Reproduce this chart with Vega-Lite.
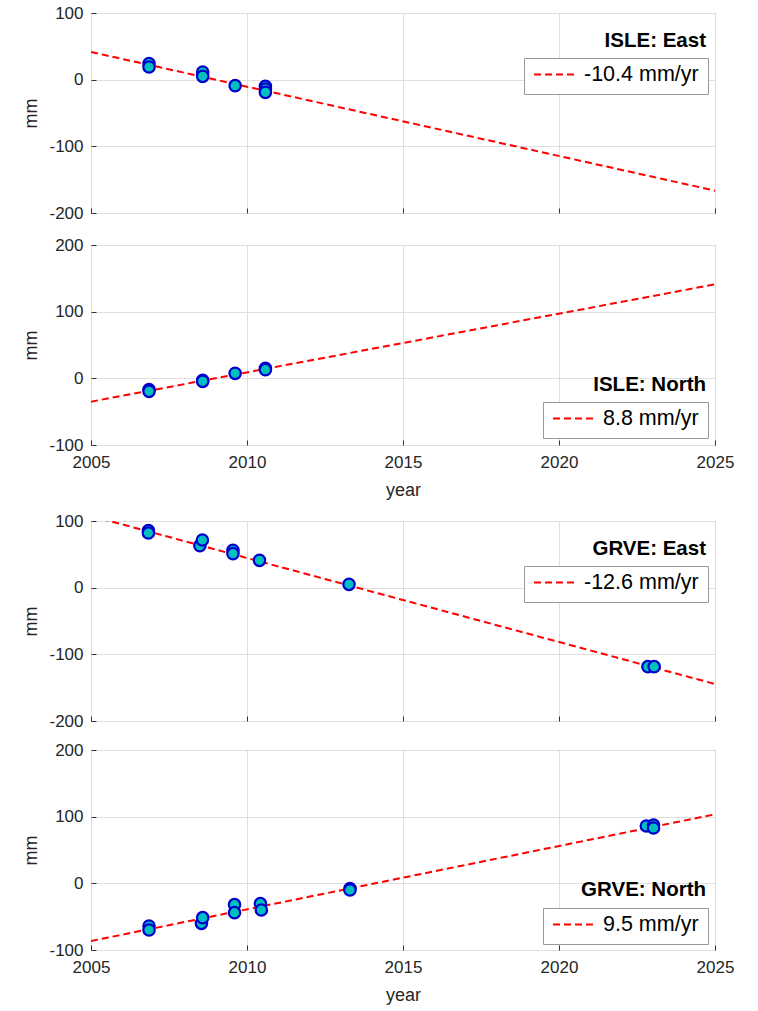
{
  "$schema": "https://vega.github.io/schema/vega-lite/v6.json",
  "padding": {"left": 22, "top": 3, "right": 5, "bottom": 5},
  "background": "white",
  "datasets": {
    "points": [
      {"panel": "ISLE East", "year": 2006.86, "mm": 24},
      {"panel": "ISLE East", "year": 2006.86, "mm": 19},
      {"panel": "ISLE East", "year": 2008.58, "mm": 11.5},
      {"panel": "ISLE East", "year": 2008.58, "mm": 5},
      {"panel": "ISLE East", "year": 2009.62, "mm": -9},
      {"panel": "ISLE East", "year": 2010.59, "mm": -10},
      {"panel": "ISLE East", "year": 2010.59, "mm": -14},
      {"panel": "ISLE East", "year": 2010.59, "mm": -19},
      {"panel": "ISLE North", "year": 2006.86, "mm": -17},
      {"panel": "ISLE North", "year": 2006.86, "mm": -19.5},
      {"panel": "ISLE North", "year": 2008.58, "mm": -3},
      {"panel": "ISLE North", "year": 2008.58, "mm": -4.5},
      {"panel": "ISLE North", "year": 2009.62, "mm": 7.5},
      {"panel": "ISLE North", "year": 2010.59, "mm": 15},
      {"panel": "ISLE North", "year": 2010.59, "mm": 13},
      {"panel": "GRVE East", "year": 2006.84, "mm": 85.5},
      {"panel": "GRVE East", "year": 2006.84, "mm": 82},
      {"panel": "GRVE East", "year": 2008.49, "mm": 63},
      {"panel": "GRVE East", "year": 2008.57, "mm": 71.5},
      {"panel": "GRVE East", "year": 2009.55, "mm": 56},
      {"panel": "GRVE East", "year": 2009.55, "mm": 51},
      {"panel": "GRVE East", "year": 2010.4, "mm": 41},
      {"panel": "GRVE East", "year": 2013.27, "mm": 5},
      {"panel": "GRVE East", "year": 2022.85, "mm": -118.5},
      {"panel": "GRVE East", "year": 2023.05, "mm": -118.5},
      {"panel": "GRVE North", "year": 2006.86, "mm": -64},
      {"panel": "GRVE North", "year": 2006.86, "mm": -70},
      {"panel": "GRVE North", "year": 2008.54, "mm": -60},
      {"panel": "GRVE North", "year": 2008.58, "mm": -51.5},
      {"panel": "GRVE North", "year": 2009.6, "mm": -32},
      {"panel": "GRVE North", "year": 2009.6, "mm": -44},
      {"panel": "GRVE North", "year": 2010.43, "mm": -30.5},
      {"panel": "GRVE North", "year": 2010.46, "mm": -40},
      {"panel": "GRVE North", "year": 2013.3, "mm": -8},
      {"panel": "GRVE North", "year": 2013.3, "mm": -10},
      {"panel": "GRVE North", "year": 2022.8, "mm": 86},
      {"panel": "GRVE North", "year": 2023.03, "mm": 87.5},
      {"panel": "GRVE North", "year": 2023.03, "mm": 83}
    ],
    "lines": [
      {"panel": "ISLE East", "year": 2005, "mm": 41.5, "label": "-10.4 mm/yr"},
      {"panel": "ISLE East", "year": 2025, "mm": -166.5, "label": "-10.4 mm/yr"},
      {"panel": "ISLE North", "year": 2005, "mm": -35, "label": "8.8 mm/yr"},
      {"panel": "ISLE North", "year": 2025, "mm": 141, "label": "8.8 mm/yr"},
      {"panel": "GRVE East", "year": 2005, "mm": 107.5, "label": "-12.6 mm/yr"},
      {"panel": "GRVE East", "year": 2025, "mm": -144.5, "label": "-12.6 mm/yr"},
      {"panel": "GRVE North", "year": 2005, "mm": -86.5, "label": "9.5 mm/yr"},
      {"panel": "GRVE North", "year": 2025, "mm": 103.5, "label": "9.5 mm/yr"}
    ],
    "labels": [
      {"panel": "ISLE East", "text": "ISLE: East"},
      {"panel": "ISLE North", "text": "ISLE: North"},
      {"panel": "GRVE East", "text": "GRVE: East"},
      {"panel": "GRVE North", "text": "GRVE: North"}
    ]
  },
  "spacing": 11,
  "resolve": {"scale": {"color": "independent"}, "legend": {"color": "independent"}},
  "vconcat": [
    {
      "spacing": 13,
      "resolve": {"scale": {"color": "independent"}, "legend": {"color": "independent"}},
      "vconcat": [
        {
          "width": 624, "height": 200,
          "layer": [
            {
              "data": {"name": "lines"},
              "transform": [{"filter": "datum.panel === 'ISLE East'"}],
              "mark": {"type": "line", "strokeDash": [7, 4], "strokeWidth": 2, "clip": true},
              "encoding": {
                "x": {"field": "year", "type": "quantitative", "scale": {"domain": [2005, 2025], "nice": false, "zero": false}, "axis": {"values": [2005, 2010, 2015, 2020, 2025], "labels": false, "title": null}},
                "y": {"field": "mm", "type": "quantitative", "scale": {"domain": [-200, 100], "nice": false}, "axis": {"values": [-200, -100, 0, 100], "title": "mm", "labelExpr": "'' + datum.value"}},
                "color": {"field": "label", "type": "nominal", "scale": {"range": ["#ff0000"]}, "legend": {"orient": "none", "legendX": 433, "legendY": 45}}
              }
            },
            {
              "data": {"name": "points"},
              "transform": [{"filter": "datum.panel === 'ISLE East'"}],
              "mark": {"type": "point", "shape": "circle", "filled": true, "fill": "#00bfbf", "stroke": "#0000cc", "strokeWidth": 2.2, "size": 130, "opacity": 1},
              "encoding": {"x": {"field": "year", "type": "quantitative"}, "y": {"field": "mm", "type": "quantitative"}}
            },
            {
              "data": {"name": "labels"},
              "transform": [{"filter": "datum.panel === 'ISLE East'"}],
              "mark": {"type": "text", "align": "right", "baseline": "alphabetic", "dx": -9, "dy": 34, "fontSize": 20.5, "fontWeight": "bold", "font": "Liberation Sans", "color": "#000000"},
              "encoding": {"x": {"datum": 2025, "type": "quantitative"}, "y": {"datum": 100, "type": "quantitative"}, "text": {"field": "text"}}
            }
          ]
        },
        {
          "width": 624, "height": 200,
          "layer": [
            {
              "data": {"name": "lines"},
              "transform": [{"filter": "datum.panel === 'ISLE North'"}],
              "mark": {"type": "line", "strokeDash": [7, 4], "strokeWidth": 2, "clip": true},
              "encoding": {
                "x": {"field": "year", "type": "quantitative", "scale": {"domain": [2005, 2025], "nice": false, "zero": false}, "axis": {"values": [2005, 2010, 2015, 2020, 2025], "format": "d", "title": "year"}},
                "y": {"field": "mm", "type": "quantitative", "scale": {"domain": [-100, 200], "nice": false}, "axis": {"values": [-100, 0, 100, 200], "title": "mm", "labelExpr": "'' + datum.value"}},
                "color": {"field": "label", "type": "nominal", "scale": {"range": ["#ff0000"]}, "legend": {"orient": "none", "legendX": 452, "legendY": 157}}
              }
            },
            {
              "data": {"name": "points"},
              "transform": [{"filter": "datum.panel === 'ISLE North'"}],
              "mark": {"type": "point", "shape": "circle", "filled": true, "fill": "#00bfbf", "stroke": "#0000cc", "strokeWidth": 2.2, "size": 130, "opacity": 1},
              "encoding": {"x": {"field": "year", "type": "quantitative"}, "y": {"field": "mm", "type": "quantitative"}}
            },
            {
              "data": {"name": "labels"},
              "transform": [{"filter": "datum.panel === 'ISLE North'"}],
              "mark": {"type": "text", "align": "right", "baseline": "alphabetic", "dx": -9, "dy": -54, "fontSize": 20.5, "fontWeight": "bold", "font": "Liberation Sans", "color": "#000000"},
              "encoding": {"x": {"datum": 2025, "type": "quantitative"}, "y": {"datum": -100, "type": "quantitative"}, "text": {"field": "text"}}
            }
          ]
        }
      ]
    },
    {
      "spacing": 10,
      "resolve": {"scale": {"color": "independent"}, "legend": {"color": "independent"}},
      "vconcat": [
        {
          "width": 624, "height": 200,
          "layer": [
            {
              "data": {"name": "lines"},
              "transform": [{"filter": "datum.panel === 'GRVE East'"}],
              "mark": {"type": "line", "strokeDash": [7, 4], "strokeWidth": 2, "clip": true},
              "encoding": {
                "x": {"field": "year", "type": "quantitative", "scale": {"domain": [2005, 2025], "nice": false, "zero": false}, "axis": {"values": [2005, 2010, 2015, 2020, 2025], "labels": false, "title": null}},
                "y": {"field": "mm", "type": "quantitative", "scale": {"domain": [-200, 100], "nice": false}, "axis": {"values": [-200, -100, 0, 100], "title": "mm", "labelExpr": "'' + datum.value"}},
                "color": {"field": "label", "type": "nominal", "scale": {"range": ["#ff0000"]}, "legend": {"orient": "none", "legendX": 433, "legendY": 45}}
              }
            },
            {
              "data": {"name": "points"},
              "transform": [{"filter": "datum.panel === 'GRVE East'"}],
              "mark": {"type": "point", "shape": "circle", "filled": true, "fill": "#00bfbf", "stroke": "#0000cc", "strokeWidth": 2.2, "size": 130, "opacity": 1},
              "encoding": {"x": {"field": "year", "type": "quantitative"}, "y": {"field": "mm", "type": "quantitative"}}
            },
            {
              "data": {"name": "labels"},
              "transform": [{"filter": "datum.panel === 'GRVE East'"}],
              "mark": {"type": "text", "align": "right", "baseline": "alphabetic", "dx": -9, "dy": 34, "fontSize": 20.5, "fontWeight": "bold", "font": "Liberation Sans", "color": "#000000"},
              "encoding": {"x": {"datum": 2025, "type": "quantitative"}, "y": {"datum": 100, "type": "quantitative"}, "text": {"field": "text"}}
            }
          ]
        },
        {
          "width": 624, "height": 200,
          "layer": [
            {
              "data": {"name": "lines"},
              "transform": [{"filter": "datum.panel === 'GRVE North'"}],
              "mark": {"type": "line", "strokeDash": [7, 4], "strokeWidth": 2, "clip": true},
              "encoding": {
                "x": {"field": "year", "type": "quantitative", "scale": {"domain": [2005, 2025], "nice": false, "zero": false}, "axis": {"values": [2005, 2010, 2015, 2020, 2025], "format": "d", "title": "year"}},
                "y": {"field": "mm", "type": "quantitative", "scale": {"domain": [-100, 200], "nice": false}, "axis": {"values": [-100, 0, 100, 200], "title": "mm", "labelExpr": "'' + datum.value"}},
                "color": {"field": "label", "type": "nominal", "scale": {"range": ["#ff0000"]}, "legend": {"orient": "none", "legendX": 452, "legendY": 158}}
              }
            },
            {
              "data": {"name": "points"},
              "transform": [{"filter": "datum.panel === 'GRVE North'"}],
              "mark": {"type": "point", "shape": "circle", "filled": true, "fill": "#00bfbf", "stroke": "#0000cc", "strokeWidth": 2.2, "size": 130, "opacity": 1},
              "encoding": {"x": {"field": "year", "type": "quantitative"}, "y": {"field": "mm", "type": "quantitative"}}
            },
            {
              "data": {"name": "labels"},
              "transform": [{"filter": "datum.panel === 'GRVE North'"}],
              "mark": {"type": "text", "align": "right", "baseline": "alphabetic", "dx": -9, "dy": -54, "fontSize": 20.5, "fontWeight": "bold", "font": "Liberation Sans", "color": "#000000"},
              "encoding": {"x": {"datum": 2025, "type": "quantitative"}, "y": {"datum": -100, "type": "quantitative"}, "text": {"field": "text"}}
            }
          ]
        }
      ]
    }
  ],
  "config": {
    "font": "Liberation Sans",
    "view": {"stroke": "#333333", "strokeWidth": 1},
    "axis": {
      "domain": false,
      "grid": true,
      "gridColor": "#dfdfdf",
      "gridWidth": 1,
      "ticks": true,
      "tickSize": -5,
      "tickColor": "#333333",
      "labelFont": "Liberation Sans",
      "labelFontSize": 17,
      "labelColor": "#262626",
      "labelPadding": 13,
      "titleFont": "Liberation Sans",
      "titleFontSize": 18,
      "titleFontWeight": "normal",
      "titleColor": "#262626",
      "titlePadding": 8,
      "labelFlush": false,
      "labelOverlap": false
    },
    "axisX": {"labelPadding": 14, "titlePadding": 11},
    "legend": {
      "title": null,
      "symbolType": "stroke",
      "symbolSize": 1600,
      "symbolStrokeWidth": 2,
      "symbolDash": [7, 4],
      "clipHeight": 15,
      "labelFont": "Liberation Sans",
      "labelFontSize": 21.5,
      "labelColor": "#000000",
      "labelOffset": 9,
      "strokeColor": "#999999",
      "fillColor": "#ffffff",
      "padding": 9
    }
  }
}
